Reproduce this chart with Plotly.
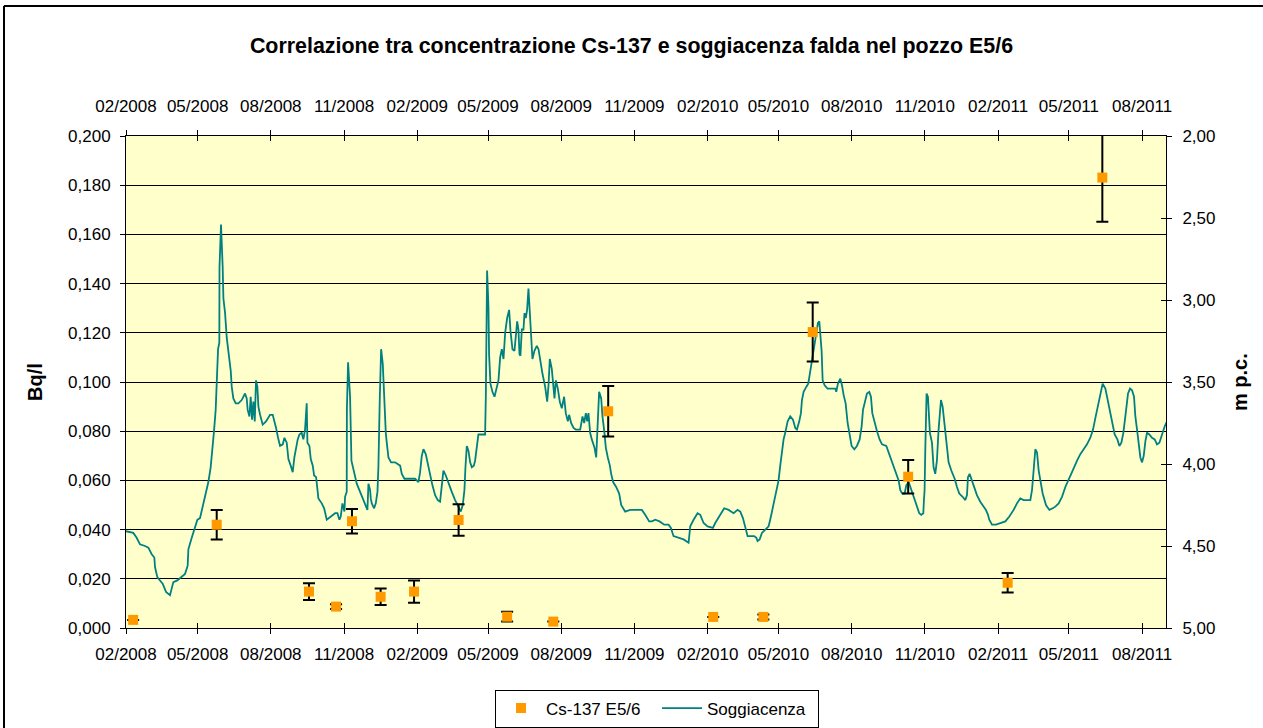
import pandas as pd
import plotly.graph_objects as go

# ---------------- data ----------------
cs_dates = ["2008-02-10", "2008-05-25", "2008-09-18", "2008-10-22", "2008-11-11",
            "2008-12-17", "2009-01-28", "2009-03-25", "2009-05-25", "2009-07-22",
            "2009-09-29", "2010-02-08", "2010-04-12", "2010-06-13", "2010-10-11",
            "2011-02-13", "2011-06-12"]
cs_values = [0.0033, 0.0420, 0.0148, 0.0087, 0.0434,
             0.0127, 0.0148, 0.0439, 0.0046, 0.0026,
             0.0881, 0.0045, 0.0045, 0.1203, 0.0615,
             0.0184, 0.1831]
cs_err = [0.0, 0.0060, 0.0034, 0.0010, 0.0050,
          0.0034, 0.0045, 0.0064, 0.0020, 0.0,
          0.0103, 0.0, 0.0010, 0.0120, 0.0068,
          0.0040, 0.0180]

# days since 2008-02-01 and depth (m p.c.)
sogg_day = [
    0, 9.2, 13.4, 17.6, 23.9, 28.1, 32.3, 35.6, 36.5, 39.4, 42.7, 46.1, 50.3, 55.3, 57.4, 59.5,
    64.5, 70.0, 74.2, 77.5, 78.4, 82.6, 86.7, 89.7, 93.0, 96.4, 100.6, 103.5, 106.4, 108.9, 110.6,
    112.7, 114.0, 115.2, 115.7, 117.3, 117.5, 119.4, 120.7, 121.5, 122.4, 124.5, 126.6, 128.7,
    131.6, 132.9, 134.9, 137.9, 141.2, 145.4, 149.6, 151.7, 152.9, 155.1, 156.7, 158.4, 160.1,
    161.8, 163.4, 165.1, 166.4, 168.5, 171.8, 176.0, 181.0, 184.4, 186.1, 188.6, 191.1, 193.6,
    197.0, 199.1, 202.0, 204.1, 207.0, 209.5, 211.6, 213.7, 215.8, 217.9, 220.8, 222.9, 225.0,
    227.1, 228.0, 230.5, 232.2, 234.7, 236.4, 238.9, 240.5, 241.8, 246.0, 249.0, 252.3, 257.3,
    262.8, 265.7, 268.2, 269.9, 272.0, 274.5, 275.3, 277.4, 277.6, 279.1, 281.6, 283.3, 285.8,
    290.0, 294.2, 298.4, 301.7, 303.4, 304.7, 306.8, 307.6, 308.9, 311.8, 313.9, 316.0, 317.2,
    318.9, 320.6, 322.7, 324.4, 326.5,
    327.7, 329.8, 333.1, 338.2, 344.5, 346.6, 349.9, 354.9, 363.3, 367.5, 369.6, 371.7, 373.8,
    376.7, 379.2, 382.2, 385.1, 388.5, 391.8, 394.7, 396.8, 398.9, 401.9, 405.2, 409.4, 413.6,
    417.8, 420.7, 423.2, 425.3, 426.6, 428.3, 430.4, 432.5, 434.6, 437.1, 438.7, 441.3, 442.9,
    445.9, 451.3, 452.2, 453.8, 455.5, 456.3, 458.0, 460.5, 463.1, 466.0, 468.1, 470.2, 472.3,
    474.4, 476.5, 479.0, 481.5, 483.2, 485.7, 488.2, 489.9, 491.6, 493.2, 494.5, 495.7, 497.4,
    499.5, 500.8, 502.4, 504.1, 505.8, 507.5, 509.2, 510.8, 513.3, 516.3, 518.4, 520.9, 523.4,
    526.8, 529.3, 531.0, 532.6, 535.1, 537.2, 538.5, 540.2, 542.7, 545.2, 547.7, 550.6, 552.7,
    555.3, 556.9, 559.4, 562.4, 565.3, 570.8, 573.7, 575.8, 577.9, 579.6, 581.2, 583.3, 585.4,
    588.8, 590.9, 592.1, 594.6, 597.2, 598.8, 601.3, 603.0, 605.5, 608.1, 609.7, 612.2, 616.0,
    619.8, 622.3, 627.3, 633.6, 640.7, 648.3, 652.5, 657.5, 660.9,
    665.1, 670.5, 676.4, 681.8, 684.8, 688.1, 694.4, 700.7, 707.0, 709.1, 713.3, 718.3, 721.7,
    725.9, 730.9, 737.6, 740.5, 746.8, 751.8, 757.3, 763.6, 768.6, 772.0, 775.3, 778.2, 781.2,
    784.5, 789.5, 792.1, 793.7, 796.3, 799.2, 803.4, 807.6, 810.5, 813.9, 817.2, 820.1, 822.2,
    824.3, 826.4, 828.5, 830.6, 831.5, 834.8, 838.2, 841.1, 843.2, 846.1, 848.2, 849.5, 851.6,
    854.9, 857.4, 859.1, 861.2, 864.1, 867.1, 869.6, 871.3, 872.5, 874.2, 875.5, 878.0, 881.7,
    887.2, 891.4, 892.6, 894.7, 897.7, 899.8, 901.9, 904.4, 906.9, 909.4, 911.9, 915.3, 918.6,
    922.0, 924.5, 926.2, 928.3, 931.2, 934.1, 936.2, 937.9, 940.4, 943.8, 947.1, 950.1, 955.5,
    958.4, 961.4, 964.7, 968.1, 971.0, 973.1, 975.6, 978.6, 980.6, 983.6, 985.7, 989.0, 992.0,
    994.0, 996.9, 999.4, 1002.0, 1002.8, 1003.6, 1004.5, 1005.3, 1006.1, 1007.8, 1008.7, 1010.3,
    1012.9, 1014.9, 1017.0, 1019.1, 1021.2, 1022.9, 1024.2, 1026.3, 1028.8, 1031.7, 1033.8,
    1037.2, 1041.4, 1044.3, 1047.2, 1051.4, 1054.8, 1056.9, 1058.1, 1060.2, 1062.3, 1065.2,
    1069.4, 1073.6, 1077.8, 1080.7, 1083.3, 1084.9, 1088.3, 1093.3, 1098.8, 1105.1, 1110.1,
    1115.5, 1119.7, 1123.9, 1128.1, 1136.5, 1138.6, 1140.7, 1142.8, 1144.9, 1147.0, 1149.1,
    1152.0, 1156.2, 1160.4, 1164.6, 1167.9, 1172.1, 1176.3, 1180.5, 1185.5, 1189.7, 1195.2,
    1199.3, 1203.5, 1207.7, 1211.9, 1215.3, 1218.2, 1221.5, 1224.5, 1227.4, 1230.8, 1232.9,
    1235.8, 1239.2, 1242.5, 1245.9, 1248.4, 1250.9, 1253.4, 1255.9, 1258.0, 1259.3, 1261.8,
    1264.3, 1266.8, 1268.5, 1270.6, 1272.7, 1274.8, 1276.9, 1279.0, 1281.1, 1283.2, 1286.1,
    1289.4, 1292.8, 1295.7, 1298.7, 1302.0, 1305.4, 1308.3]
sogg_depth = [
    4.41, 4.42, 4.45, 4.49, 4.50, 4.51, 4.55, 4.57, 4.63, 4.69, 4.71, 4.73, 4.78, 4.80, 4.76, 4.72,
    4.71, 4.69, 4.67, 4.62, 4.52, 4.45, 4.38, 4.34, 4.33, 4.26, 4.18, 4.11, 4.02, 3.91, 3.80,
    3.67, 3.49, 3.45, 3.30, 3.26, 2.80, 2.54, 2.67, 2.80, 2.99, 3.08, 3.23, 3.31,
    3.43, 3.53, 3.60, 3.63, 3.63, 3.61, 3.57, 3.60, 3.67, 3.71, 3.59, 3.73, 3.62,
    3.74, 3.49, 3.53, 3.65, 3.70, 3.76, 3.74, 3.70, 3.70, 3.73, 3.78, 3.84, 3.89,
    3.88, 3.84, 3.87, 3.97, 4.01, 4.05, 3.96, 3.90, 3.85, 3.82, 3.81, 3.85, 3.79,
    3.63, 3.87, 3.89, 3.97, 4.01, 4.07, 4.08, 4.16, 4.21, 4.24, 4.27, 4.34, 4.32,
    4.30, 4.30, 4.34, 4.32, 4.24, 4.29, 4.20, 4.17, 3.67, 3.38, 3.59, 3.98, 4.04,
    4.12, 4.17, 4.22, 4.27, 4.28, 4.12, 4.16, 4.21, 4.24, 4.27, 4.24, 4.17, 4.02,
    3.61, 3.30, 3.39, 3.61, 3.81,
    3.87, 3.96, 3.99, 3.99, 4.01, 4.06, 4.09, 4.09, 4.09, 4.11, 4.05, 3.95, 3.91,
    3.94, 4.00, 4.07, 4.13, 4.19, 4.22, 4.23, 4.12, 4.04, 4.07, 4.12, 4.17, 4.22,
    4.26, 4.29, 4.25, 4.16, 4.02, 3.89, 3.92, 3.99, 4.02, 4.01, 3.98, 3.87, 3.82,
    3.82, 3.82, 3.59, 2.82, 3.04, 3.33, 3.51, 3.56, 3.59, 3.54, 3.49, 3.35, 3.30,
    3.36, 3.20, 3.11, 3.06, 3.19, 3.30, 3.31, 3.22, 3.13, 3.18, 3.33, 3.34, 3.18,
    3.18, 3.08, 3.11, 3.06, 2.93, 3.06, 3.25, 3.36, 3.31, 3.28, 3.30, 3.39, 3.45,
    3.53, 3.62, 3.52, 3.36, 3.42, 3.51, 3.60, 3.49, 3.54, 3.62, 3.66, 3.59, 3.69,
    3.74, 3.70, 3.75, 3.78, 3.79, 3.79, 3.71, 3.75, 3.69, 3.74, 3.69, 3.81, 3.85,
    3.90, 3.96, 3.81, 3.56, 3.60, 3.71, 3.81, 3.90, 3.96, 4.01, 4.06, 4.11, 4.14,
    4.18, 4.25, 4.29, 4.28, 4.28, 4.28, 4.31, 4.35, 4.35,
    4.34, 4.35, 4.37, 4.37, 4.39, 4.44, 4.45, 4.46, 4.48, 4.38, 4.34, 4.30, 4.31,
    4.36, 4.38, 4.39, 4.36, 4.31, 4.27, 4.28, 4.30, 4.28, 4.29, 4.33, 4.39, 4.44,
    4.44, 4.44, 4.45, 4.47, 4.46, 4.42, 4.40, 4.38, 4.32, 4.24, 4.16, 4.10, 4.01,
    3.91, 3.85, 3.81, 3.77, 3.74, 3.71, 3.73, 3.78, 3.79, 3.74, 3.69, 3.61, 3.56,
    3.53, 3.51, 3.46, 3.40, 3.31, 3.22, 3.14, 3.13, 3.22, 3.31, 3.49, 3.52, 3.54,
    3.54, 3.54, 3.56, 3.51, 3.48, 3.52, 3.58, 3.63, 3.75, 3.83, 3.89, 3.91, 3.89,
    3.85, 3.77, 3.67, 3.62, 3.57, 3.56, 3.59, 3.69, 3.74, 3.80, 3.85, 3.88, 3.89,
    3.93, 3.98, 4.02, 4.06, 4.10, 4.16, 4.18, 4.18, 4.13, 4.11, 4.14, 4.18, 4.23,
    4.25, 4.30, 4.31, 4.30, 4.22, 4.16, 3.91, 3.71, 3.57, 3.59, 3.71, 3.81,
    3.87, 4.02, 4.06, 3.98, 3.79, 3.65, 3.61, 3.65, 3.77, 3.91, 3.99,
    4.04, 4.09, 4.14, 4.18, 4.20, 4.22, 4.19, 4.08, 4.06, 4.09, 4.14,
    4.19, 4.23, 4.26, 4.28, 4.31, 4.34, 4.37, 4.37, 4.36, 4.35, 4.32,
    4.28, 4.24, 4.21, 4.22, 4.22, 4.16, 4.04, 3.91, 3.93, 4.04, 4.10,
    4.18, 4.25, 4.28, 4.27, 4.26, 4.24, 4.20, 4.14, 4.08, 4.04, 3.98,
    3.94, 3.91, 3.88, 3.84, 3.79, 3.72, 3.65, 3.59, 3.51, 3.54, 3.59,
    3.68, 3.76, 3.82, 3.85, 3.89, 3.87, 3.81, 3.71, 3.63, 3.57, 3.54,
    3.55, 3.59, 3.71, 3.79, 3.87, 3.96, 3.99, 3.95, 3.86, 3.81, 3.82,
    3.84, 3.85, 3.88, 3.87, 3.82, 3.77, 3.74]

x_start = "2008-02-01"
x_end = "2011-08-31"
start = pd.Timestamp(x_start)
sogg_dates = start + pd.to_timedelta(sogg_day, unit="D")

FONT = "Liberation Sans, Arial, sans-serif"

fig = go.Figure()
fig.add_trace(go.Scatter(
    x=sogg_dates, y=sogg_depth, mode="lines", name="Soggiacenza",
    line=dict(color="#008080", width=1.8), xaxis="x", yaxis="y", legendrank=2))
fig.add_trace(go.Scatter(
    x=cs_dates, y=cs_values, mode="markers", name="Cs-137 E5/6",
    marker=dict(symbol="square", size=10, color="#FF9900"),
    error_y=dict(type="data", array=cs_err, visible=True, color="black", thickness=2, width=6),
    xaxis="x2", yaxis="y2", legendrank=1))
# empty helper traces so the extra (inside-tick) axes are drawn
for xa, ya in (("x3", "y"), ("x4", "y"), ("x", "y3")):
    fig.add_trace(go.Scatter(x=[None], y=[None], xaxis=xa, yaxis=ya, showlegend=False,
                             hoverinfo="skip", mode="lines"))

tickfont = dict(family=FONT, size=17, color="black")
xcommon = dict(type="date", range=[x_start, x_end], tick0=x_start, dtick="M3",
               tickformat="%m/%Y", ticks="outside", ticklen=5, tickcolor="black",
               showline=True, linecolor="black", linewidth=1, showgrid=False,
               zeroline=False, tickfont=tickfont)
xinside = dict(type="date", range=[x_start, x_end], tick0=x_start, dtick="M3",
               ticks="inside", ticklen=5, tickcolor="black", showticklabels=False,
               showline=False, showgrid=False, zeroline=False)

fig.update_layout(
    width=1263, height=728,
    paper_bgcolor="white", plot_bgcolor="#FFFFCC",
    separators=",.",
    margin=dict(l=126, r=97, t=136, b=100, autoexpand=False),
    title=dict(text="<b>Correlazione tra concentrazione Cs-137 e soggiacenza falda nel pozzo E5/6</b>",
               x=0.5, xanchor="center", xref="container", y=1 - 46 / 728, yref="container",
               yanchor="middle", font=dict(family=FONT, size=21.4, color="black")),
    xaxis=dict(**xcommon, side="bottom", anchor="y", ticklabelstandoff=6),
    xaxis2=dict(**xcommon, side="top", anchor="y2", overlaying="x", ticklabelstandoff=11),
    xaxis3=dict(**xinside, side="bottom", anchor="y", overlaying="x"),
    xaxis4=dict(**xinside, side="top", anchor="y", overlaying="x"),
    yaxis=dict(range=[5, 2], tick0=2, dtick=0.5, tickformat=".2f", side="right", anchor="x",
               ticks="outside", ticklen=5, tickcolor="black", showline=True, linecolor="black",
               linewidth=1, showgrid=False, zeroline=False,
               tickfont=tickfont, ticklabelstandoff=7),
    yaxis3=dict(range=[5, 2], tick0=2, dtick=0.5, side="right", anchor="x", overlaying="y",
                ticks="inside", ticklen=5, tickcolor="black", showticklabels=False,
                showline=False, showgrid=False, zeroline=False),
    yaxis2=dict(range=[0, 0.2], tick0=0, dtick=0.02, tickformat=".3f", side="left", anchor="x2",
                overlaying="y", ticks="outside", ticklen=5, tickcolor="black", showline=True,
                linecolor="black", linewidth=1, showgrid=True, gridcolor="black", gridwidth=1,
                zeroline=False, tickfont=tickfont, ticklabelstandoff=6),
    showlegend=True,
    legend=dict(orientation="h", x=0.5106, y=1 - 708.5 / 728, xref="paper", yref="container",
                xanchor="center", yanchor="middle", itemwidth=40,
                bordercolor="black", borderwidth=1, bgcolor="white", entrywidth=106,
                font=dict(family=FONT, size=17, color="black"), traceorder="normal"),
    annotations=[
        dict(text="<b>Bq/l</b>", xref="paper", yref="paper", x=(35 - 126) / 1040, y=(628 - 382) / 492,
             showarrow=False, textangle=-90, font=dict(family=FONT, size=20, color="black"),
             xanchor="center", yanchor="middle"),
        dict(text="<b>m p.c.</b>", xref="paper", yref="paper", x=(1240 - 126) / 1040, y=(628 - 382) / 492,
             showarrow=False, textangle=-90, font=dict(family=FONT, size=20, color="black"),
             xanchor="center", yanchor="middle"),
    ],
    shapes=[
        dict(type="line", xref="paper", yref="paper", x0=(4 - 126) / 1040, x1=(1270 - 126) / 1040,
             y0=(628 - 6) / 492, y1=(628 - 6) / 492, line=dict(color="black", width=2)),
        dict(type="line", xref="paper", yref="paper", x0=(4 - 126) / 1040, x1=(4 - 126) / 1040,
             y0=(628 - 6) / 492, y1=(628 - 740) / 492, line=dict(color="black", width=2)),
    ],
)

fig.write_html("out.html", config={"displayModeBar": False},
               post_script="document.body.style.margin='0px';")
